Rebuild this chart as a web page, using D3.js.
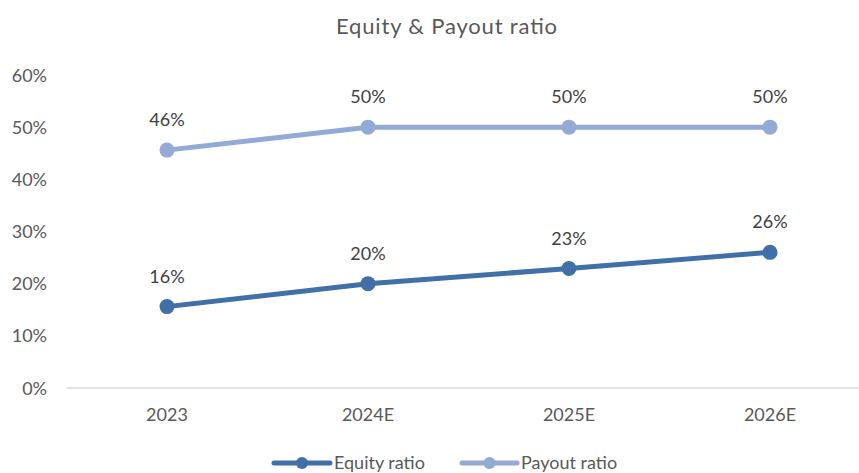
<!DOCTYPE html>
<html><head><meta charset="utf-8">
<script src="https://cdn.jsdelivr.net/npm/d3@7"></script>
<style>body{margin:0;background:#fff;}svg{display:block;font-family:Lato,"Open Sans",sans-serif;}</style>
</head><body><svg id="c" width="859" height="473"></svg>
<script>
const categories = ["2023","2024E","2025E","2026E"];
const equityRatio = [15.6, 20.0, 22.9, 26.0];
const payoutRatio = [45.6, 50.0, 50.0, 50.0];
const equityLabels = ["16%","20%","23%","26%"];
const payoutLabels = ["46%","50%","50%","50%"];
const yTicks = [0,10,20,30,40,50,60];
const seriesNames = ["Equity ratio","Payout ratio"];
const colors = ["#4170a8","#93aad4"];

const svg = d3.select("#c");
const x = d3.scaleBand().domain(categories).range([66.5, 870.5]);
const y = d3.scaleLinear().domain([0,60]).range([388, 75]);

svg.append("text").attr("x",446.5).attr("y",34).attr("text-anchor","middle")
  .attr("textLength",221).attr("lengthAdjust","spacing")
  .attr("fill","#595959").style("font-size","22px").text("Equity & Payout ratio");

// y labels
svg.append("g").selectAll("text").data(yTicks).join("text")
  .attr("x",47).attr("y",d=>y(d)+6.5).attr("text-anchor","end")
  .attr("fill","#595959").style("font-size","18px").text(d=>d+"%");

// baseline
svg.append("line").attr("x1",66.5).attr("x2",870).attr("y1",y(0)).attr("y2",y(0))
  .attr("stroke","#d9d9d9").attr("stroke-width",1.3);

// x labels
svg.append("g").selectAll("text").data(categories).join("text")
  .attr("x",d=>x(d)+x.bandwidth()/2).attr("y",421).attr("text-anchor","middle")
  .attr("fill","#595959").style("font-size","18px").text(d=>d);

const cx = d=>x(d)+x.bandwidth()/2;
const series = [
  {vals: payoutRatio, labels: payoutLabels, color: colors[1]},
  {vals: equityRatio, labels: equityLabels, color: colors[0]}
];
const line = d3.line().x(d=>cx(d.c)).y(d=>y(d.v));
series.forEach(s=>{
  const pts = categories.map((c,i)=>({c, v:s.vals[i], l:s.labels[i]}));
  svg.append("path").datum(pts).attr("d",line).attr("fill","none")
    .attr("stroke",s.color).attr("stroke-width",5).attr("stroke-linecap","round");
  svg.append("g").selectAll("circle").data(pts).join("circle")
    .attr("cx",d=>cx(d.c)).attr("cy",d=>y(d.v)).attr("r",7.5).attr("fill",s.color);
  svg.append("g").selectAll("text").data(pts).join("text")
    .attr("x",d=>cx(d.c)).attr("y",d=>y(d.v)-24).attr("text-anchor","middle")
    .attr("fill","#404040").style("font-size","18px").text(d=>d.l);
});

// legend
const leg = [{x1:274,x2:330,tx:334},{x1:462,x2:517,tx:521}];
leg.forEach((L,i)=>{
  const g = svg.append("g");
  g.append("line").attr("x1",L.x1).attr("x2",L.x2).attr("y1",463).attr("y2",463)
    .attr("stroke",colors[i]).attr("stroke-width",5).attr("stroke-linecap","round");
  g.append("circle").attr("cx",(L.x1+L.x2)/2).attr("cy",463).attr("r",6).attr("fill",colors[i]);
  g.append("text").attr("x",L.tx).attr("y",468.5).attr("fill","#595959")
    .style("font-size","18px").text(seriesNames[i]);
});
</script></body></html>
